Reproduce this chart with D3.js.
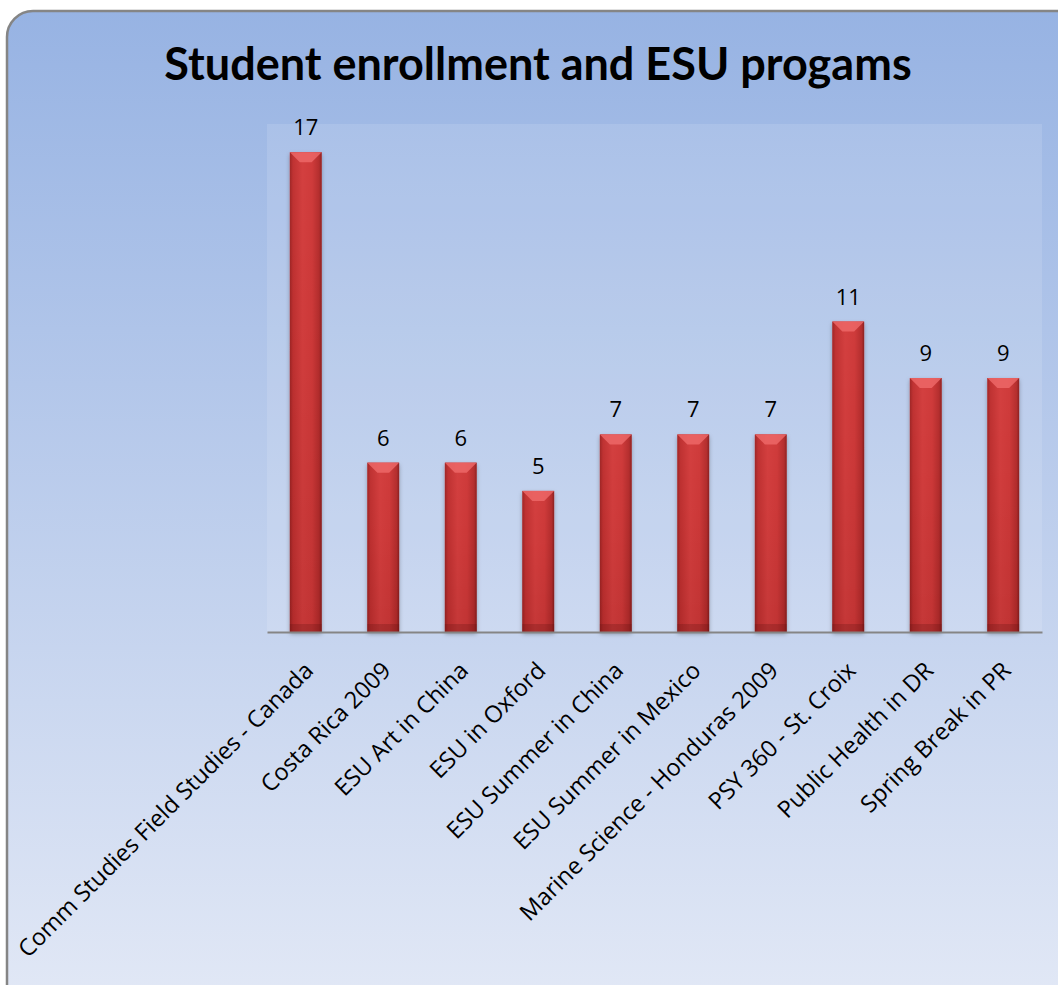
<!DOCTYPE html>
<html><head><meta charset="utf-8">
<script src="https://cdn.jsdelivr.net/npm/d3@7/dist/d3.min.js"></script>
<style>html,body{margin:0;padding:0;background:#fff;}svg{display:block;}</style>
</head><body>
<svg id="c" width="1058" height="985"></svg>
<script>
const categories = ["Comm Studies Field Studies - Canada","Costa Rica 2009","ESU Art in China","ESU in Oxford","ESU Summer in China","ESU Summer in Mexico","Marine Science - Honduras 2009","PSY 360 - St. Croix","Public Health in DR","Spring Break in PR"];
const values = [17,6,6,5,7,7,7,11,9,9];
const title = "Student enrollment and ESU progams";

const svg = d3.select("#c");
const defs = svg.append("defs");
const bg = defs.append("linearGradient").attr("id","bg").attr("x1",0).attr("y1",0).attr("x2",0).attr("y2",1);
bg.append("stop").attr("offset","0%").attr("stop-color","#97b3e3");
bg.append("stop").attr("offset","100%").attr("stop-color","#e3e9f6");
const bar = defs.append("linearGradient").attr("id","bar").attr("x1",0).attr("y1",0).attr("x2",1).attr("y2",0);
[["0%","#8a1c1c"],["10%","#b52b2b"],["40%","#cf3c3c"],["70%","#c93636"],["92%","#a62626"],["100%","#701515"]].forEach(s=>bar.append("stop").attr("offset",s[0]).attr("stop-color",s[1]));
const barV = defs.append("linearGradient").attr("id","barV").attr("x1",0).attr("y1",0).attr("x2",0).attr("y2",1);
[["0%","#e04a4a"],["40%","#d23e3e"],["100%","#a62b2b"]].forEach(s=>barV.append("stop").attr("offset",s[0]).attr("stop-color",s[1]));
const flt = defs.append("filter").attr("id","sh").attr("x","-30%").attr("y","-10%").attr("width","160%").attr("height","130%");
flt.append("feDropShadow").attr("dx",0).attr("dy",2).attr("stdDeviation",2).attr("flood-color","#000").attr("flood-opacity",0.3);

svg.append("rect").attr("x",7).attr("y",11).attr("width",1080).attr("height",1010).attr("rx",26)
  .attr("fill","url(#bg)").attr("stroke","#858585").attr("stroke-width",2.5);

svg.append("text").attr("x",538).attr("y",80).attr("text-anchor","middle")
  .attr("font-family","Lato, 'Open Sans', sans-serif").attr("font-weight","bold").attr("font-size",45)
  .attr("fill","#000").text(title);

const x = d3.scaleBand().domain(categories).range([267,1042]).paddingInner(0.59).paddingOuter(0.295);
const y = d3.scaleLinear().domain([0,18]).range([632,124]);

svg.append("rect").attr("x",267).attr("y",124).attr("width",1042-267).attr("height",632-124)
  .attr("fill","#ffffff").attr("fill-opacity",0.12);

const g = svg.append("g");
const bars = g.selectAll("g.b").data(values).enter().append("g").attr("class","b");
bars.append("rect").attr("x",(d,i)=>x(categories[i])).attr("y",d=>y(d)).attr("width",x.bandwidth())
  .attr("height",d=>y(0)-y(d)).attr("fill","url(#barV)").attr("filter","url(#sh)");
bars.append("rect").attr("x",(d,i)=>x(categories[i])).attr("y",d=>y(d)).attr("width",x.bandwidth())
  .attr("height",d=>y(0)-y(d)).attr("fill","url(#bar)").attr("opacity",0.75);
bars.append("path").attr("d",(d,i)=>{const x0=x(categories[i]),w=x.bandwidth(),t=y(d),b=Math.min(10,w/3);
  return `M${x0},${t}L${x0+w},${t}L${x0+w-b},${t+b}L${x0+b},${t+b}Z`;}).attr("fill","#ef6a6a").attr("opacity",0.8);
bars.append("rect").attr("x",(d,i)=>x(categories[i])).attr("y",y(0)-8).attr("width",x.bandwidth()).attr("height",8)
  .attr("fill","#5a1010").attr("opacity",0.25);

g.selectAll("text.v").data(values).enter().append("text")
  .attr("x",(d,i)=>x(categories[i])+x.bandwidth()/2).attr("y",d=>y(d)-17)
  .attr("text-anchor","middle").attr("font-family","'Open Sans', sans-serif").attr("font-size",22).attr("fill","#000").text(d=>d);

const ax = svg.append("g").attr("transform","translate(0,632)").call(d3.axisBottom(x).tickSize(0).tickPadding(0));
ax.attr("font-size",null).attr("font-family",null);
ax.select(".domain").attr("stroke","#858585").attr("stroke-width",2);
ax.selectAll(".tick text").style("font-family","'Open Sans', sans-serif").style("font-size","23.5px").attr("fill","#000")
  .attr("text-anchor","end").attr("dy",0).attr("transform","translate(9,40) rotate(-45)");
</script>
</body></html>
